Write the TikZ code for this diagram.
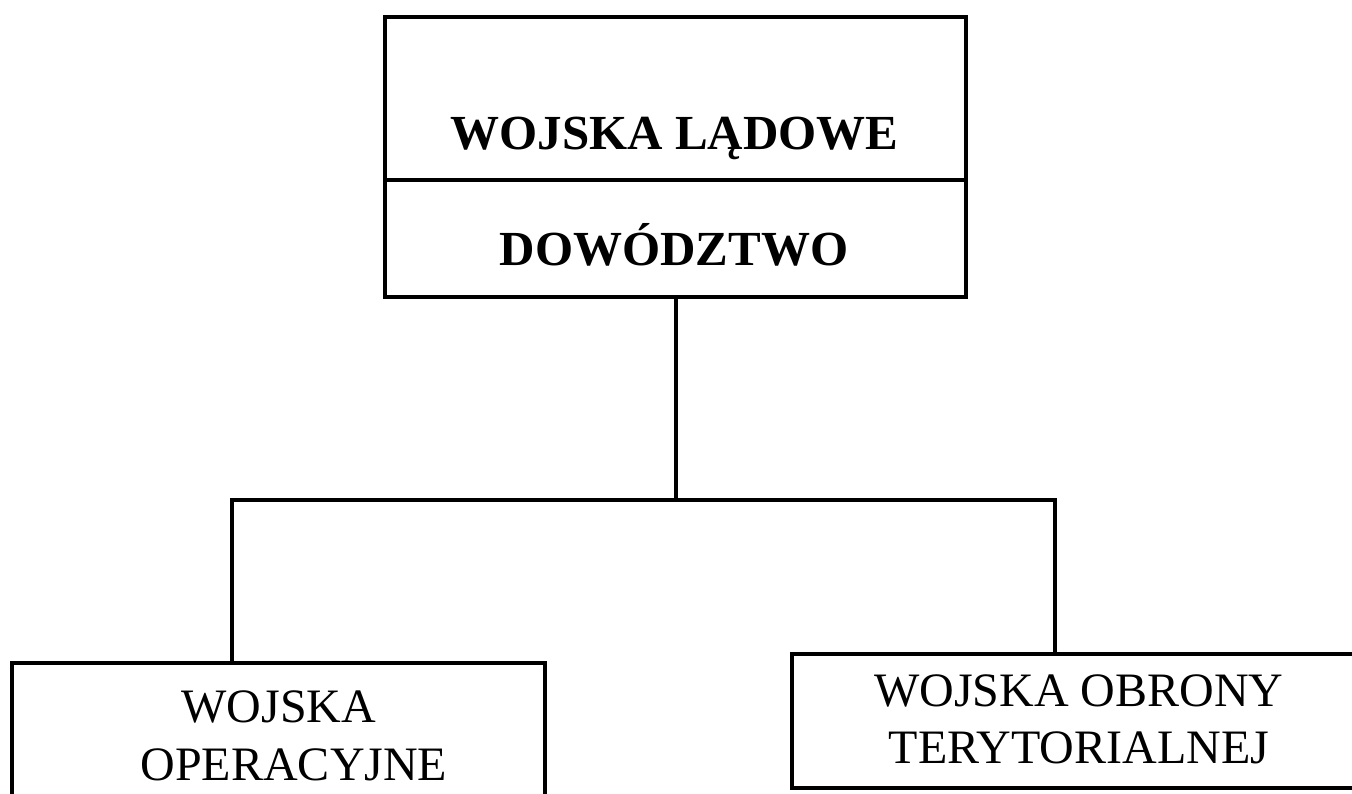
\documentclass[tikz,border=0pt]{standalone}
\usepackage{fontspec}
\setmainfont{Liberation Serif}
\begin{document}
\begin{tikzpicture}[x=1pt,y=-1pt,
  box/.style={draw=black,line width=3.6pt,rectangle,inner sep=0pt},
  conn/.style={draw=black,line width=3.6pt},
  bigbold/.style={font=\fontsize{49}{56}\bfseries\selectfont,inner sep=0pt},
  bigreg/.style={font=\fontsize{48}{57}\selectfont,inner sep=0pt,align=center}]
\useasboundingbox (0,0) rectangle (1352,794);
\clip (0,0) rectangle (1352,794);
\fill[white] (0,0) rectangle (1352,794);
% top box: two parts
\node[box,minimum width=581pt,minimum height=163pt] (wl) at (675.5,98.5) {};
\node[box,minimum width=581pt,minimum height=117pt] (dow) at (675.5,238.5) {};
\node[bigbold,anchor=base] (wlt) at (674.5,150) {WOJSKA LĄDOWE};
\node[bigbold,anchor=base] (dowt) at (674,266) {DOWÓDZTWO};
% bottom boxes (running past the picture edge)
\node[box,minimum width=533pt,minimum height=170pt] (op) at (278.5,748) {};
\node[box,minimum width=580pt,minimum height=134pt] (ot) at (1082,721) {};
\node[bigreg,anchor=base] (opt1) at (279,722) {WOJSKA};
\node[bigreg,anchor=base] (opt2) at (294,780) {OPERACYJNE};
\node[bigreg,anchor=base] (ott1) at (1079,706) {WOJSKA OBRONY};
\node[bigreg,anchor=base] (ott2) at (1079,763) {TERYTORIALNEJ};
% connectors
\coordinate (jc) at (676,500);
\coordinate (jl) at (232,500);
\coordinate (jr) at (1055,500);
\draw[conn] (dow.south -| jc) -- (jc);
\draw[conn,line cap=rect] (jl) -- (jr);
\draw[conn] (jl) -- (jl |- op.north);
\draw[conn] (jr) -- (jr |- ot.north);
\end{tikzpicture}
\end{document}
